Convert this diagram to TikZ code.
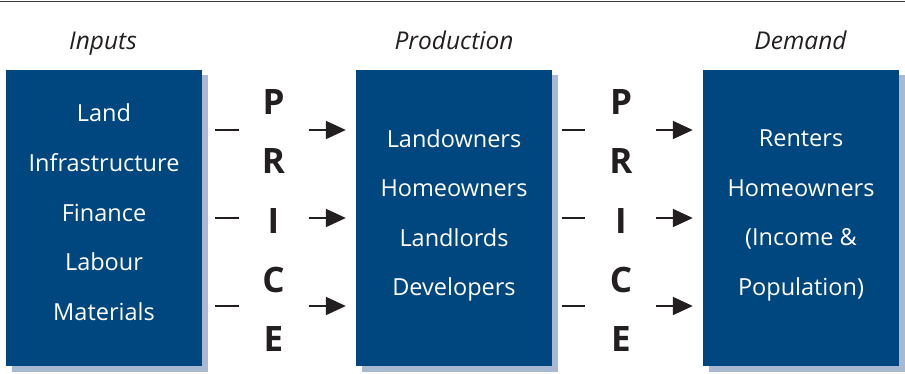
\documentclass[tikz,border=0pt]{standalone}
\usepackage{fontspec}
\setmainfont{Open Sans}
\usetikzlibrary{shadows,arrows.meta}

\definecolor{kastenblau}{RGB}{0,70,127}
\definecolor{schattenblau}{RGB}{170,185,211}
\definecolor{druckschwarz}{RGB}{35,31,32}

\begin{document}
\begin{tikzpicture}
		[
		x=1pt, y=-1pt, >={Triangle[length=20pt,width=18pt]},
		%Voreinstellungen
		kasten/.style={fill=kastenblau, minimum width=196pt, minimum height=296pt, inner sep=0pt,
			general shadow={fill=schattenblau, shadow xshift=6pt, shadow yshift=-5.5pt}},
		kastentext/.style={anchor=base, inner sep=0pt, text=white, font=\fontsize{23.5}{28}\selectfont},
		titel/.style={anchor=base, inner sep=0pt, text=druckschwarz, font=\fontsize{24.5}{29}\selectfont\itshape},
		preis/.style={inner sep=0pt, text=druckschwarz, font=\fontsize{35}{40}\selectfont\bfseries},
		strich/.style={line width=2pt, draw=druckschwarz},
		pfeil/.style={->, line width=2pt, draw=druckschwarz}
		]
		
		%Rahmen
		\useasboundingbox (0,0) rectangle (905,374);
		
		%Linie oben
		\draw[line width=1.6pt, draw=druckschwarz!90] (0,1.5) -- (905,1.5);
		
		%Kaesten
		\node[kasten] (in) at (104,218) {};
		\node[kasten] (prod) at (454,218) {};
		\node[kasten] (dem) at (801,218) {};
		
		%Ueberschriften
		\node[titel] (t-in) at (103,49.3) {Inputs};
		\node[titel] (t-prod) at (454,49.3) {Production};
		\node[titel] (t-dem) at (800.5,49.3) {Demand};
		
		%Inhalt Inputs
		\foreach \t [count=\i] in {Land, Infrastructure, Finance, Labour, Materials}
		\node[kastentext] (in-\i) at (104,{122+49.6*(\i-1)}) {\t};
		
		%Inhalt Production
		\foreach \t [count=\i] in {Landowners, Homeowners, Landlords, Developers}
		\node[kastentext] (prod-\i) at (454,{147.3+49.4*(\i-1)}) {\t};
		
		%Inhalt Demand
		\foreach \t [count=\i] in {Renters, Homeowners, {(Income \&}, {Population)}}
		\node[kastentext] (dem-\i) at (801,{147+49.4*(\i-1)}) {\t};
		
		%PRICE zweimal
		\foreach \b [count=\i] in {P,R,I,C,E}
		{
		\node[preis] (p1-\i) at (273.5,{102+59.3*(\i-1)}) {\b};
		\node[preis] (p2-\i) at (621,{102+59.3*(\i-1)}) {\b};
		}
		
		%Striche und Pfeile
		\foreach \r in {88,0,-88}
		{
		\draw[strich] ([xshift=13pt, yshift=\r pt]in.east) -- ([xshift=37pt, yshift=\r pt]in.east);
		\draw[pfeil] ([xshift=-47pt, yshift=\r pt]prod.west) -- ([xshift=-10pt, yshift=\r pt]prod.west);
		\draw[strich] ([xshift=10pt, yshift=\r pt]prod.east) -- ([xshift=33pt, yshift=\r pt]prod.east);
		\draw[pfeil] ([xshift=-47pt, yshift=\r pt]dem.west) -- ([xshift=-10pt, yshift=\r pt]dem.west);
		}
	\end{tikzpicture}
\end{document}
